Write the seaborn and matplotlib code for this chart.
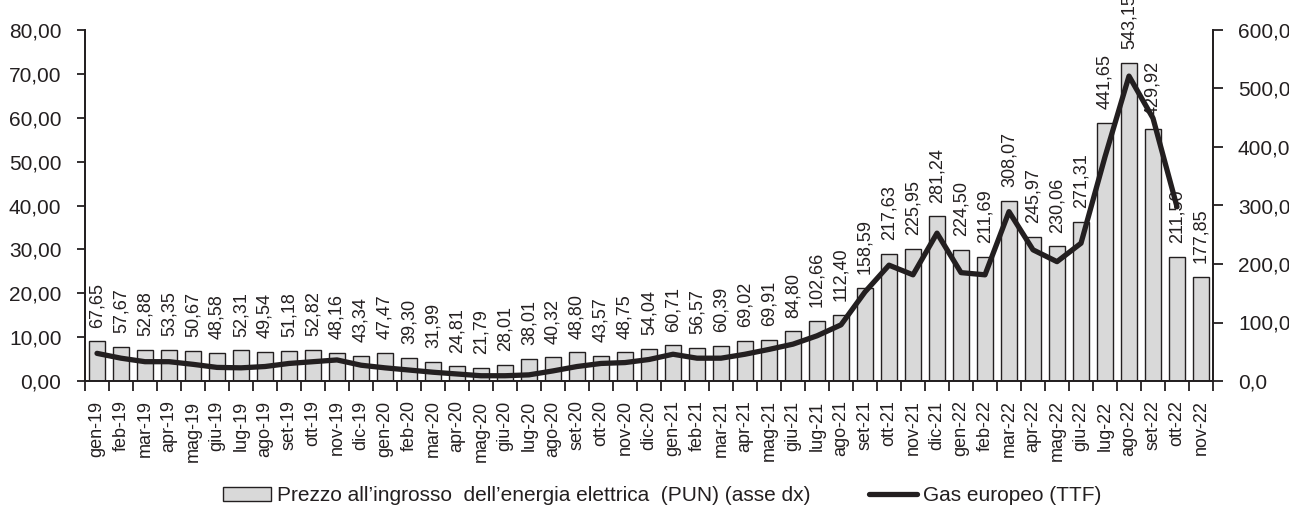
import numpy as np
import pandas as pd
import matplotlib
matplotlib.use("Agg")
import matplotlib.pyplot as plt
import seaborn as sns
from matplotlib.ticker import FuncFormatter, MultipleLocator
from matplotlib.patches import Patch
from matplotlib.lines import Line2D

months = ["gen-19", "feb-19", "mar-19", "apr-19", "mag-19", "giu-19", "lug-19", "ago-19",
          "set-19", "ott-19", "nov-19", "dic-19",
          "gen-20", "feb-20", "mar-20", "apr-20", "mag-20", "giu-20", "lug-20", "ago-20",
          "set-20", "ott-20", "nov-20", "dic-20",
          "gen-21", "feb-21", "mar-21", "apr-21", "mag-21", "giu-21", "lug-21", "ago-21",
          "set-21", "ott-21", "nov-21", "dic-21",
          "gen-22", "feb-22", "mar-22", "apr-22", "mag-22", "giu-22", "lug-22", "ago-22",
          "set-22", "ott-22", "nov-22"]

pun = [67.65, 57.67, 52.88, 53.35, 50.67, 48.58, 52.31, 49.54, 51.18, 52.82, 48.16, 43.34,
       47.47, 39.30, 31.99, 24.81, 21.79, 28.01, 38.01, 40.32, 48.80, 43.57, 48.75, 54.04,
       60.71, 56.57, 60.39, 69.02, 69.91, 84.80, 102.66, 112.40, 158.59, 217.63, 225.95, 281.24,
       224.50, 211.69, 308.07, 245.97, 230.06, 271.31, 441.65, 543.15, 429.92, 211.50, 177.85]

ttf = [6.3, 5.2, 4.4, 4.4, 3.8, 3.1, 3.0, 3.3, 4.0, 4.4, 4.8, 3.6,
       3.0, 2.5, 2.0, 1.6, 1.2, 1.2, 1.4, 2.3, 3.3, 4.0, 4.2, 4.9,
       6.1, 5.2, 5.2, 6.1, 7.2, 8.4, 10.3, 12.8, 20.3, 26.4, 24.2, 33.7,
       24.7, 24.2, 38.6, 29.9, 27.2, 31.4, 51.1, 69.5, 59.9, 39.7, np.nan]

label_pun = "Prezzo all\u2019ingrosso  dell\u2019energia elettrica  (PUN) (asse dx)"
label_ttf = "Gas europeo (TTF)"

sns.set_style("ticks")
plt.rcParams["font.family"] = ["Liberation Sans", "DejaVu Sans"]
FS_Y, FS_X, FS_BAR, FS_LEG = 15.0, 13.0, 13.0, 15.0

DARK = "#231f20"
BARC = "#d9d9d9"

df = pd.DataFrame({"mese": months, "pos": np.arange(len(months)), "pun": pun, "ttf": ttf})

fig = plt.figure(figsize=(12.89, 5.08), dpi=100)
ax = fig.add_axes([85 / 1289, 1 - 381 / 508, 1128 / 1289, 351 / 508])

sns.barplot(data=df, x="mese", y="pun", ax=ax, color=BARC, saturation=1,
            edgecolor=DARK, linewidth=1.0, width=0.64)
ax.set_ylim(0, 600)
ax.set_xlim(-0.5, len(months) - 0.5)

labels = [f"{v:.2f}".replace(".", ",") for v in pun]
ax.bar_label(ax.containers[0], labels=labels, rotation=90, padding=10,
             fontsize=FS_BAR, color=DARK)

ax2 = ax.twinx()
sns.lineplot(data=df, x="pos", y="ttf", ax=ax2, color=DARK, linewidth=3.8,
             solid_capstyle="round", solid_joinstyle="round")
ax2.set_ylim(0, 80)
ax2.set_xlim(-0.5, len(months) - 0.5)

# right axis (PUN) / left axis (TTF)
ax.yaxis.tick_right()
ax.yaxis.set_label_position("right")
ax2.yaxis.tick_left()
ax2.yaxis.set_label_position("left")

ax.yaxis.set_major_locator(MultipleLocator(100))
ax.yaxis.set_major_formatter(FuncFormatter(lambda v, p: f"{v:.1f}".replace(".", ",")))
ax2.yaxis.set_major_locator(MultipleLocator(10))
ax2.yaxis.set_major_formatter(FuncFormatter(lambda v, p: f"{v:.2f}".replace(".", ",")))

for a in (ax, ax2):
    a.set_xlabel("")
    a.set_ylabel("")
    a.spines["top"].set_visible(False)
    for s in ("left", "right", "bottom"):
        a.spines[s].set_visible(True)
        a.spines[s].set_color(DARK)
        a.spines[s].set_linewidth(1.3)

ax.tick_params(axis="y", which="major", direction="out", length=7, width=1.3,
               color=DARK, labelsize=FS_Y, labelcolor=DARK, pad=11)
ax2.tick_params(axis="y", which="major", direction="out", length=6, width=1.3,
                color=DARK, labelsize=FS_Y, labelcolor=DARK, pad=11)

ax.set_xticks(np.arange(len(months)))
ax.set_xticklabels(months, rotation=90, fontsize=FS_X, color=DARK)
ax.set_xticks(np.arange(-0.5, len(months), 1), minor=True)
ax.tick_params(axis="x", which="major", length=0, pad=14)
ax.tick_params(axis="x", which="minor", direction="out", length=7, width=1.3, color=DARK)
ax2.tick_params(axis="x", which="both", length=0, labelbottom=False)
ax2.grid(False)
ax.grid(False)

handles = [Patch(facecolor=BARC, edgecolor=DARK, linewidth=1.0),
           Line2D([0], [0], color=DARK, linewidth=3.8, solid_capstyle="round")]
fig.legend(handles, [label_pun, label_ttf], loc="center", bbox_to_anchor=(0.514, 0.024),
           ncol=2, frameon=False, fontsize=FS_LEG, handlelength=2.3, handleheight=0.6,
           handletextpad=0.3, columnspacing=2.8, labelcolor=DARK)

fig.savefig("out.png", dpi=100)
